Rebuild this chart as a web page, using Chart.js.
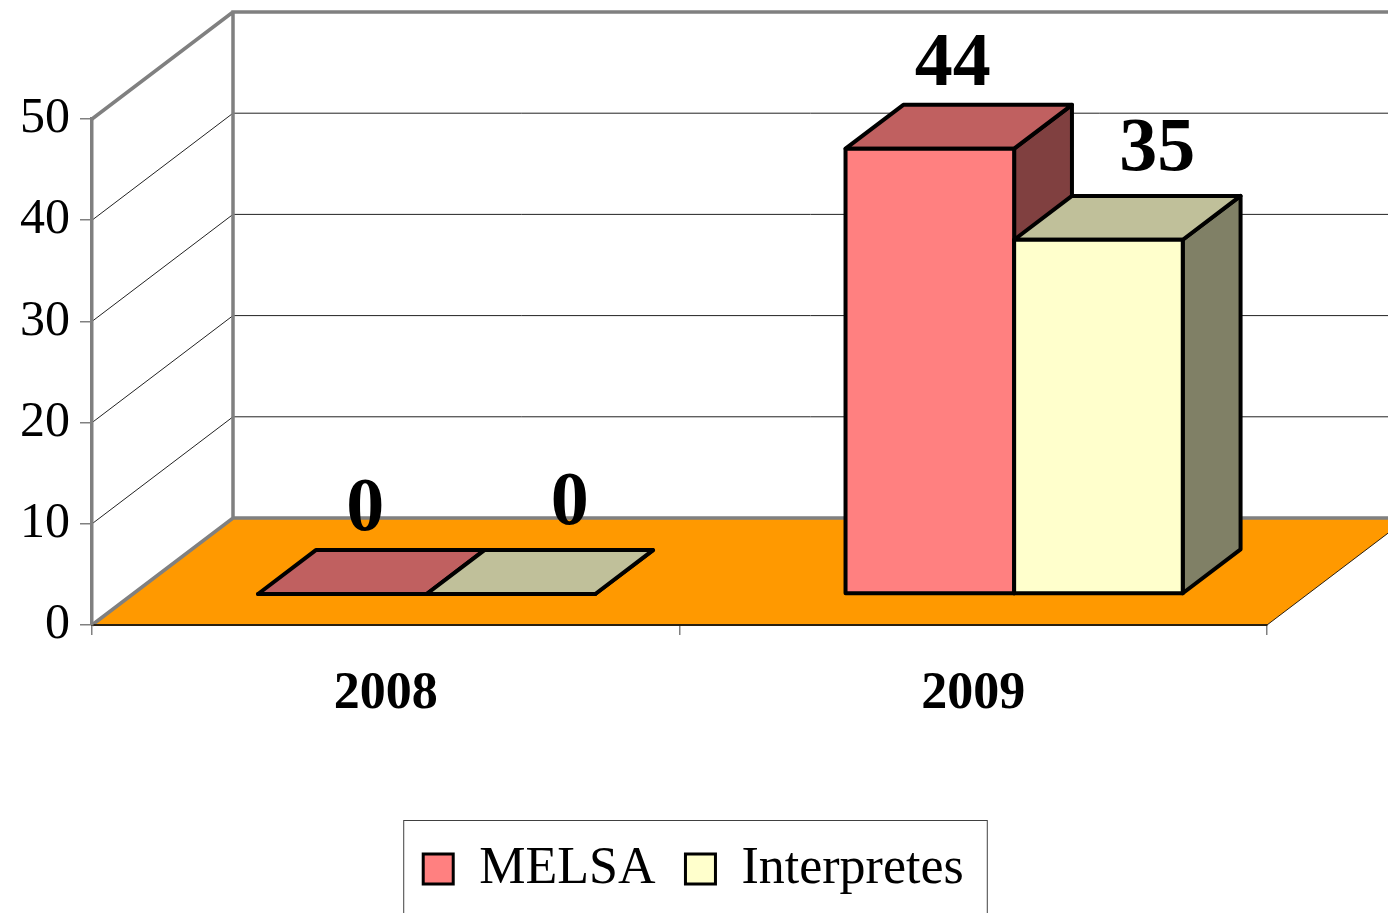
<!DOCTYPE html>
<html>
<head>
<meta charset="utf-8">
<script src="https://cdn.jsdelivr.net/npm/chart.js@4.4.1/dist/chart.umd.min.js"></script>
<style>
  html, body { margin: 0; padding: 0; background: #fff; overflow: hidden; }
  #wrap { width: 1388px; height: 913px; }
</style>
</head>
<body>
<div id="wrap"><canvas id="grafico"></canvas></div>
<script>
// Datos del gráfico
const years = ["2008", "2009"];
const melsa = [0, 44];
const interpretes = [0, 35];
const yTicks = [0, 10, 20, 30, 40, 50];

// Colores de las caras (frente, arriba, lado)
const frontColors = ["#FF8080", "#FFFFCC"];
const topColors = ["#C06060", "#C0C09A"];
const sideColors = ["#804040", "#808066"];

// Profundidad del efecto 3D
const DX = 141, DY = -107;
const BAR_FRONT = 0.29, BAR_BACK = 0.70;
const labelShiftX = [-6, 30];
const labelGap = [20, 26];

const serif = "'Liberation Serif', 'Times New Roman', serif";

function poly(ctx, pts) {
  ctx.beginPath();
  ctx.moveTo(pts[0][0], pts[0][1]);
  for (let i = 1; i < pts.length; i++) ctx.lineTo(pts[i][0], pts[i][1]);
  ctx.closePath();
}

const threeD = {
  id: "threeD",
  afterLayout(chart) {
    const lg = chart.legend;
    lg.left += 60; lg.right += 60;
    lg.top -= 8; lg.bottom -= 8;
  },
  beforeDraw(chart) {
    const { ctx, chartArea: a, scales: { y } } = chart;
    const W = chart.width;
    ctx.save();
    // paredes: lineas de cuadricula
    ctx.strokeStyle = "#222";
    ctx.lineWidth = 1;
    yTicks.forEach(v => {
      if (v === yTicks[0] || v === yTicks[yTicks.length - 1]) return;
      const py = y.getPixelForValue(v);
      ctx.beginPath();
      ctx.moveTo(a.left, py);
      ctx.lineTo(a.left + DX, py + DY);
      ctx.lineTo(W, py + DY);
      ctx.stroke();
    });
    // piso
    ctx.fillStyle = "#FF9900";
    poly(ctx, [[a.left, a.bottom], [a.right, a.bottom], [a.right + DX, a.bottom + DY], [a.left + DX, a.bottom + DY]]);
    ctx.fill();
    ctx.strokeStyle = "#2a2010";
    ctx.lineWidth = 1;
    ctx.beginPath();
    ctx.moveTo(a.right, a.bottom);
    ctx.lineTo(a.right + DX, a.bottom + DY);
    ctx.stroke();
    // bordes grises
    ctx.strokeStyle = "#808080";
    ctx.lineWidth = 3.5;
    ctx.lineJoin = "miter";
    ctx.beginPath();
    ctx.moveTo(a.left, a.bottom);
    ctx.lineTo(a.left + DX, a.bottom + DY);
    ctx.lineTo(W, a.bottom + DY);
    ctx.moveTo(a.left + DX, a.bottom + DY);
    ctx.lineTo(a.left + DX, a.top + DY);
    ctx.lineTo(W, a.top + DY);
    ctx.moveTo(a.left, a.top);
    ctx.lineTo(a.left + DX, a.top + DY);
    ctx.stroke();
    ctx.restore();
  },
  beforeDatasetsDraw(chart) {
    const ctx = chart.ctx;
    const ddx = (BAR_BACK - BAR_FRONT) * DX, ddy = (BAR_BACK - BAR_FRONT) * DY;
    ctx.save();
    ctx.strokeStyle = "#000";
    ctx.lineWidth = 4;
    ctx.lineJoin = "round";
    years.forEach((_, i) => {
      chart.data.datasets.forEach((ds, d) => {
        const el = chart.getDatasetMeta(d).data[i];
        const l = el.x - el.width / 2 + BAR_FRONT * DX, r = l + el.width;
        const t = el.y + BAR_FRONT * DY, b = el.base + BAR_FRONT * DY;
        // lado
        ctx.fillStyle = sideColors[d];
        poly(ctx, [[r, t], [r + ddx, t + ddy], [r + ddx, b + ddy], [r, b]]);
        ctx.fill(); ctx.stroke();
        // arriba
        ctx.fillStyle = topColors[d];
        poly(ctx, [[l, t], [r, t], [r + ddx, t + ddy], [l + ddx, t + ddy]]);
        ctx.fill(); ctx.stroke();
        // frente
        ctx.fillStyle = ds.backgroundColor;
        poly(ctx, [[l, t], [r, t], [r, b], [l, b]]);
        ctx.fill(); ctx.stroke();
      });
    });
    ctx.restore();
    return false;
  },
  afterDraw(chart) {
    const ctx = chart.ctx;
    ctx.save();
    // etiquetas de valores
    ctx.fillStyle = "#000";
    ctx.font = "bold 76px " + serif;
    ctx.textAlign = "center";
    ctx.textBaseline = "alphabetic";
    chart.data.datasets.forEach((ds, d) => {
      chart.getDatasetMeta(d).data.forEach((el, i) => {
        const x = el.x + BAR_FRONT * DX + (BAR_BACK - BAR_FRONT) * DX / 2 + labelShiftX[d];
        const yy = el.y + BAR_BACK * DY - labelGap[d];
        ctx.fillText(String(ds.data[i]), x, yy);
      });
    });
    // marco de la leyenda
    const hb = chart.legend.legendHitBoxes;
    if (hb && hb.length) {
      const first = hb[0], last = hb[hb.length - 1];
      const left = first.left - 20, right = last.left + last.width + 23;
      const top = first.top + 11 - 34;
      ctx.strokeStyle = "#404040";
      ctx.lineWidth = 1;
      ctx.strokeRect(left + 0.5, top + 0.5, right - left, chart.height + 10 - top);
    }
    ctx.restore();
  }
};

new Chart(document.getElementById("grafico"), {
  type: "bar",
  data: {
    labels: years,
    datasets: [
      { label: "MELSA", data: melsa, backgroundColor: frontColors[0], borderColor: "#000", borderWidth: 3 },
      { label: "Interpretes", data: interpretes, backgroundColor: frontColors[1], borderColor: "#000", borderWidth: 3 }
    ]
  },
  options: {
    responsive: true,
    maintainAspectRatio: false,
    animation: false,
    layout: { padding: { top: 119, right: 121, left: 0, bottom: 0 } },
    datasets: { bar: { barPercentage: 1, categoryPercentage: 0.574 } },
    scales: {
      x: {
        offset: true,
        grid: { drawOnChartArea: false, tickLength: 10, color: "#808080", lineWidth: 1.5 },
        border: { color: "#2a2010", width: 2 },
        ticks: { color: "#000", padding: 28, font: { family: serif, size: 52, weight: "bold" } },
        afterFit(scale) { scale.height = 196; }
      },
      y: {
        min: 0,
        max: 50,
        ticks: { stepSize: 10, color: "#000", padding: 10, font: { family: serif, size: 50 } },
        grid: { drawOnChartArea: false, tickLength: 12, color: "#808080", lineWidth: 1.5 },
        border: { color: "#808080", width: 3.5 },
        afterFit(scale) { scale.width = 92; }
      }
    },
    plugins: {
      tooltip: { enabled: false },
      legend: {
        position: "bottom",
        labels: {
          boxWidth: 30,
          boxHeight: 30,
          padding: 30,
          color: "#000",
          font: { family: serif, size: 52 }
        }
      }
    }
  },
  plugins: [threeD]
});
</script>
</body>
</html>
